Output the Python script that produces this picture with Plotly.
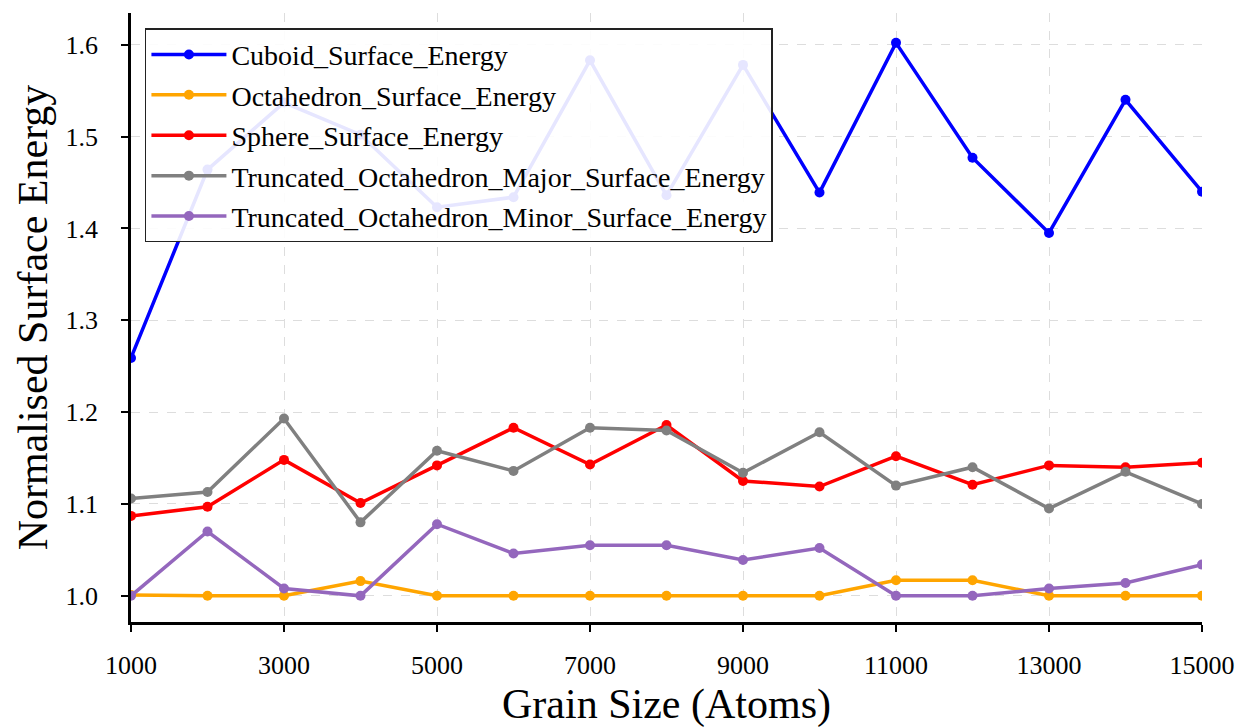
import plotly.graph_objects as go

grain_size = [1000, 2000, 3000, 4000, 5000, 6000, 7000, 8000, 9000, 10000,
              11000, 12000, 13000, 14000, 15000]

cuboid = [1.259, 1.464, 1.537, 1.502, 1.423, 1.434, 1.583, 1.436, 1.578, 1.439,
          1.602, 1.477, 1.395, 1.540, 1.440]
octahedron = [1.001, 1.000, 1.000, 1.016, 1.000, 1.000, 1.000, 1.000, 1.000, 1.000,
              1.017, 1.017, 1.000, 1.000, 1.000]
sphere = [1.087, 1.097, 1.148, 1.101, 1.142, 1.183, 1.143, 1.186, 1.125, 1.119,
          1.152, 1.121, 1.142, 1.140, 1.145]
trunc_major = [1.106, 1.113, 1.193, 1.080, 1.158, 1.136, 1.183, 1.180, 1.134, 1.178,
               1.120, 1.140, 1.095, 1.135, 1.100]
trunc_minor = [1.000, 1.070, 1.008, 1.000, 1.078, 1.046, 1.055, 1.055, 1.039, 1.052,
               1.000, 1.000, 1.008, 1.014, 1.034]

series_names = ["Cuboid_Surface_Energy", "Octahedron_Surface_Energy",
                "Sphere_Surface_Energy", "Truncated_Octahedron_Major_Surface_Energy",
                "Truncated_Octahedron_Minor_Surface_Energy"]
series_values = [cuboid, octahedron, sphere, trunc_major, trunc_minor]
series_colors = ["#0000ff", "#ffa500", "#ff0000", "#808080", "#9467bd"]

x_tick_vals = [1000, 3000, 5000, 7000, 9000, 11000, 13000, 15000]
y_tick_vals = [1.0, 1.1, 1.2, 1.3, 1.4, 1.5, 1.6]

FONT = "Liberation Serif, Times New Roman, serif"

fig = go.Figure()
for i, (name, vals, col) in enumerate(zip(series_names, series_values, series_colors)):
    fig.add_trace(go.Scatter(
        x=grain_size, y=vals, name=name, mode="lines+markers",
        line=dict(color=col, width=3.5),
        marker=dict(color=col, size=10),
        legendgroup=f"g{i}",
    ))

grid_col = "#dddddd"
fig.update_layout(
    width=1241, height=728,
    margin=dict(l=131, r=39, t=13, b=106),
    plot_bgcolor="white", paper_bgcolor="white",
    font=dict(family=FONT, color="black"),
    showlegend=True,
    legend=dict(
        x=0.013, y=0.975, xanchor="left", yanchor="top",
        bgcolor="rgba(255,255,255,0.9)", bordercolor="#222222", borderwidth=1.5,
        font=dict(family=FONT, size=28, color="black"),
        tracegroupgap=1, itemwidth=75,
    ),
    xaxis=dict(
        range=[1000, 15000], tickvals=x_tick_vals,
        ticktext=[str(v) for v in x_tick_vals],
        showline=True, linecolor="black", linewidth=2.5,
        ticks="outside", ticklen=7, tickwidth=2, tickcolor="black",
        tickfont=dict(family=FONT, size=26),
        ticklabelstandoff=11,
        showgrid=True, gridcolor=grid_col, griddash="dash", gridwidth=1.3,
        zeroline=False,
        title=dict(text="Grain Size (Atoms)", font=dict(family=FONT, size=42), standoff=10),
        automargin=False,
    ),
    yaxis=dict(
        range=[0.9715, 1.6345], tickvals=y_tick_vals,
        ticktext=[f"{v:.1f}" for v in y_tick_vals],
        showline=True, linecolor="black", linewidth=2.5,
        ticks="outside", ticklen=7, tickwidth=2, tickcolor="black",
        tickfont=dict(family=FONT, size=26),
        ticklabelstandoff=18,
        showgrid=True, gridcolor=grid_col, griddash="dash", gridwidth=1.3,
        zeroline=False,
        title=dict(text="Normalised Surface Energy", font=dict(family=FONT, size=42), standoff=5),
        automargin=False,
    ),
)

fig.write_html("out.html")
